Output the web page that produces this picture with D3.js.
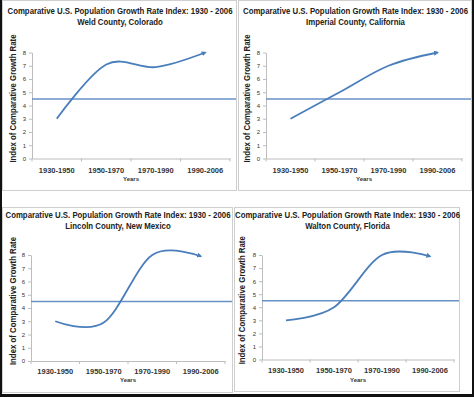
<!DOCTYPE html>
<html>
<head>
<meta charset="utf-8">
<script src="https://cdn.jsdelivr.net/npm/d3@7"></script>
<style>
body{margin:0;background:#fff}
svg{display:block}
</style>
</head>
<body>
<svg id="chart" width="474" height="397"></svg>
<script>
// ---- data ----
const titleMain = "Comparative U.S. Population Growth Rate Index: 1930 - 2006";
const counties = ["Weld County, Colorado", "Imperial County, California", "Lincoln County, New Mexico", "Walton County, Florida"];
const periods = ["1930-1950", "1950-1970", "1970-1990", "1990-2006"];
const weld = [3, 7.1, 6.9, 8];
const imperial = [3, 5, 7, 8];
const lincoln = [3, 2.9, 8, 7.9];
const walton = [3, 4, 8, 7.9];
const yTicks = [0, 1, 2, 3, 4, 5, 6, 7, 8];
const referenceLevel = 4.5;
const xTitle = "Years";
const yTitle = "Index of Comparative Growth Rate";

const seriesList = [weld, imperial, lincoln, walton];

// panel boxes and inner plot geometry (relative to the panel)
const layout = [
  {x:2,   y:0,   w:234, h:190, ax0:30, ax1:228, yBot:158.5, yTop:52.5, t1:11, t2:22, cat:11.5, years:20.5, ytX:11},
  {x:238, y:0,   w:233, h:190, ax0:28, ax1:224, yBot:158.5, yTop:52.5, t1:11, t2:22, cat:11.5, years:20.5, ytX:9},
  {x:2,   y:207, w:230, h:185, ax0:29, ax1:223, yBot:154,   yTop:48,   t1:8,  t2:19, cat:10,   years:19,   ytX:11},
  {x:234, y:207, w:225, h:184, ax0:28, ax1:220, yBot:152.5, yTop:48,   t1:8,  t2:19, cat:11,   years:20,   ytX:8}
];

const lineColor = "#4a7ebb";
const refColor = "#6792c8";
const axisColor = "#bdbdbd";
const fontStack = "'Liberation Sans', Arial, sans-serif";
const narrow = 0.87; // Calibri is narrower than Arial

const svg = d3.select("#chart");

svg.append("defs").append("marker")
  .attr("id", "arrow")
  .attr("viewBox", "0 0 10 10")
  .attr("refX", 7).attr("refY", 5)
  .attr("markerWidth", 2.8).attr("markerHeight", 2.8)
  .attr("orient", "auto")
  .append("path")
  .attr("d", "M0,0 L10,5 L0,10 Z")
  .attr("fill", lineColor);

// bold title-style text, squeezed horizontally
function boldText(parent, tx, ty, rot, str, size){
  return parent.append("text")
    .attr("transform", `translate(${tx},${ty}) rotate(${rot}) scale(${narrow},1)`)
    .attr("dy", "0.35em")
    .attr("text-anchor", "middle")
    .attr("font-family", fontStack).attr("font-weight", "bold").attr("font-size", size)
    .attr("fill", "#222")
    .text(str);
}

seriesList.forEach((values, k) => {
  const L = layout[k];
  const g = svg.append("g").attr("transform", `translate(${L.x},${L.y})`);

  g.append("rect")
    .attr("x", 0.5).attr("y", 0.5)
    .attr("width", L.w).attr("height", L.h)
    .attr("fill", "#fff")
    .attr("stroke", "#cfcfcf");

  const x = d3.scaleBand().domain(periods).range([L.ax0, L.ax1]).padding(0);
  const y = d3.scaleLinear().domain([0, 8]).range([L.yBot, L.yTop]);

  // titles
  const cx = L.w / 2 + 1;
  boldText(g, cx, L.t1, 0, titleMain, 9);
  boldText(g, cx, L.t2, 0, counties[k], 9);

  // y axis
  const yAxis = g.append("g")
    .attr("transform", `translate(${L.ax0},0)`)
    .call(d3.axisLeft(y).tickValues(yTicks).tickSize(3).tickPadding(3).tickSizeOuter(0));
  yAxis.select(".domain").attr("stroke", axisColor);
  yAxis.selectAll(".tick line").attr("stroke", axisColor);
  yAxis.selectAll("text")
    .attr("font-family", fontStack).attr("font-size", 6).attr("fill", "#333");

  // x axis: labels centred in bands, tick marks on band boundaries
  const xAxis = g.append("g")
    .attr("transform", `translate(0,${L.yBot})`)
    .call(d3.axisBottom(x).tickSize(0).tickSizeOuter(0));
  xAxis.select(".domain").attr("stroke", axisColor);
  xAxis.selectAll("text")
    .attr("y", L.cat).attr("dy", "0.35em")
    .attr("font-family", fontStack).attr("font-weight", "bold").attr("font-size", 7.5)
    .attr("fill", "#333");
  const bounds = periods.map(p => x(p)).concat([x.range()[1]]);
  xAxis.selectAll(".bound")
    .data(bounds)
    .enter().append("line")
    .attr("class", "bound")
    .attr("x1", d => d).attr("x2", d => d)
    .attr("y1", 0).attr("y2", 3)
    .attr("stroke", axisColor);

  // axis titles
  g.append("text")
    .attr("x", (L.ax0 + L.ax1) / 2).attr("y", L.yBot + L.years).attr("dy", "0.35em")
    .attr("text-anchor", "middle")
    .attr("font-family", fontStack).attr("font-weight", "bold").attr("font-size", 6)
    .attr("fill", "#333")
    .text(xTitle);
  boldText(g, L.ytX, (L.yTop + L.yBot) / 2 - 7, -90, yTitle, 9);

  // reference level line
  g.append("line")
    .attr("x1", L.ax0).attr("x2", L.w)
    .attr("y1", y(referenceLevel)).attr("y2", y(referenceLevel))
    .attr("stroke", refColor).attr("stroke-width", 1.5);

  // smoothed growth curve
  const line = d3.line()
    .x((d, i) => x(periods[i]) + x.bandwidth() / 2)
    .y(d => y(d))
    .curve(d3.curveCardinal.tension(0));
  g.append("path")
    .datum(values)
    .attr("d", line)
    .attr("fill", "none")
    .attr("stroke", lineColor)
    .attr("stroke-width", 1.8)
    .attr("marker-end", "url(#arrow)");
});

// dark frame edges of the scanned picture
svg.append("rect").attr("x", 0).attr("y", 0).attr("width", 2).attr("height", 397).attr("fill", "#111");
svg.append("rect").attr("x", 472).attr("y", 0).attr("width", 2).attr("height", 397).attr("fill", "#111");
svg.append("rect").attr("x", 0).attr("y", 394).attr("width", 474).attr("height", 3).attr("fill", "#111");
</script>
</body>
</html>
